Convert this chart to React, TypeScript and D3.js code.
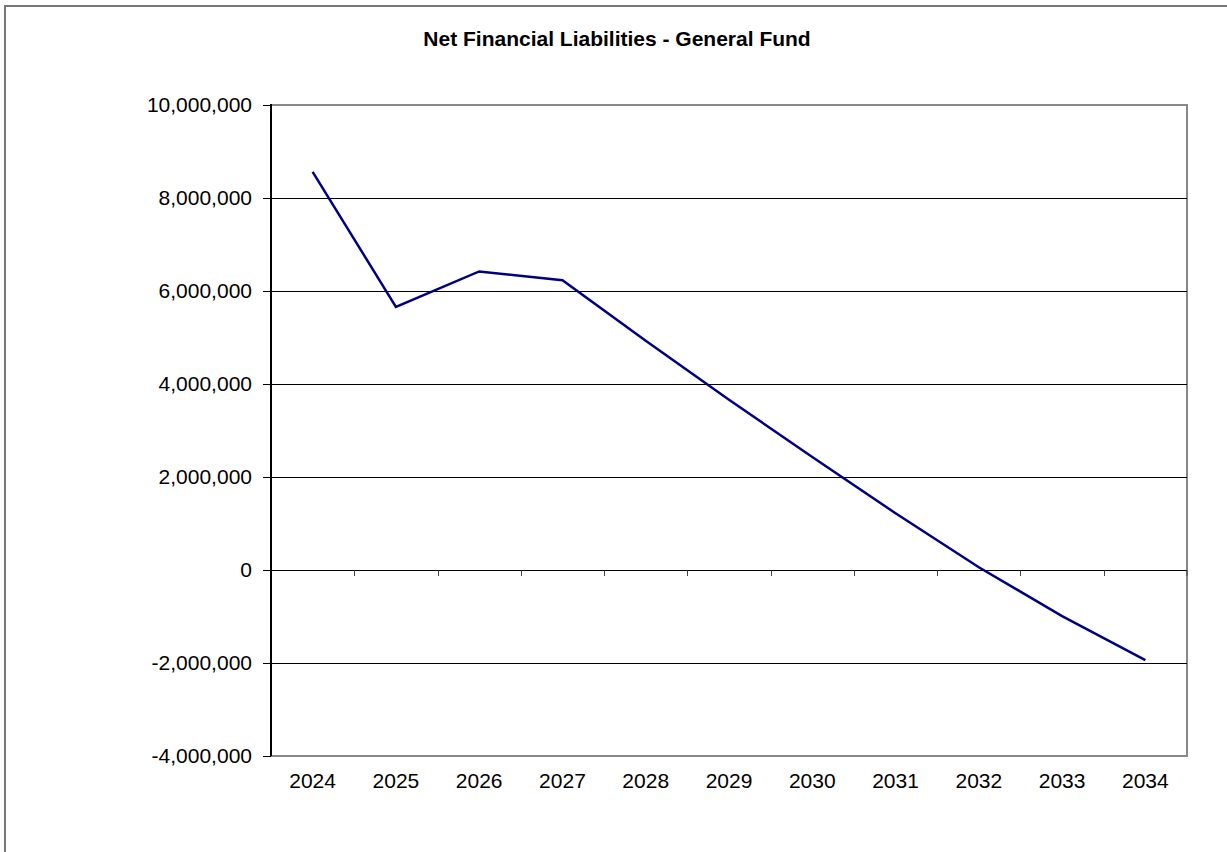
import React from "react";
import * as d3 from "d3";

const years = ["2024", "2025", "2026", "2027", "2028", "2029", "2030", "2031", "2032", "2033", "2034"];
const netLiabilities = [8560000, 5660000, 6420000, 6230000, 4930000, 3660000, 2430000, 1220000, 60000, -990000, -1940000];
const yTicks = [-4000000, -2000000, 0, 2000000, 4000000, 6000000, 8000000, 10000000];
const title = "Net Financial Liabilities - General Fund";

export default function App() {
  const W = 1227, H = 852;
  const left = 271, right = 1187, top = 105, bottom = 756;
  const x = d3.scaleBand<string>().domain(years).range([left, right]).padding(0);
  const y = d3.scaleLinear().domain([-4000000, 10000000]).range([bottom, top]);
  const fmt = d3.formatLocale({ decimal: ".", thousands: ",", grouping: [3], currency: ["", ""], minus: "-" }).format(",");
  const line = d3.line<number>()
    .x((_, i) => (x(years[i]) as number) + x.bandwidth() / 2)
    .y((d) => y(d));
  const font = "'Liberation Sans', Arial, sans-serif";
  const crisp = (v: number) => Math.round(v) + 0.5;
  const boundaries = years.map((yr) => (x(yr) as number) + x.bandwidth()).slice(0, -1);
  return (
    <svg width={W} height={H} style={{ position: "absolute", left: 0, top: 0, background: "#fff" }} fontFamily={font}>
      <rect x={5} y={6} width={1300} height={900} fill="#fff" stroke="#777" strokeWidth={2} />
      <text x={617} y={46} textAnchor="middle" fontSize={21} fontWeight="bold" fill="#000">{title}</text>
      <rect x={left} y={top} width={right - left} height={bottom - top} fill="#fff" stroke="#888" strokeWidth={2} />
      {yTicks.filter((t) => t !== -4000000 && t !== 10000000).map((t) => (
        <line key={"g" + t} x1={left} x2={right} y1={crisp(y(t))} y2={crisp(y(t))} stroke="#000" strokeWidth={1} />
      ))}
      {boundaries.map((b, i) => (
        <line key={"xt" + i} x1={crisp(b)} x2={crisp(b)} y1={crisp(y(0))} y2={y(0) + 6} stroke="#444" strokeWidth={1} />
      ))}
      <line x1={right} x2={right} y1={y(0)} y2={y(0) + 6} stroke="#444" strokeWidth={1} />
      <line x1={left} x2={left} y1={top - 1} y2={bottom} stroke="#000" strokeWidth={2} />
      {yTicks.map((t) => (
        <g key={"yt" + t}>
          <line x1={left - 8} x2={left} y1={crisp(y(t))} y2={crisp(y(t))} stroke="#000" strokeWidth={1} />
          <text x={left - 19} y={y(t)} dy="0.35em" textAnchor="end" fontSize={21} fill="#000">{fmt(t)}</text>
        </g>
      ))}
      {years.map((yr) => (
        <text key={"xl" + yr} x={(x(yr) as number) + x.bandwidth() / 2} y={788} textAnchor="middle" fontSize={21} fill="#000">{yr}</text>
      ))}
      <path d={line(netLiabilities) || ""} fill="none" stroke="#000080" strokeWidth={2.5} strokeLinejoin="miter" />
    </svg>
  );
}
